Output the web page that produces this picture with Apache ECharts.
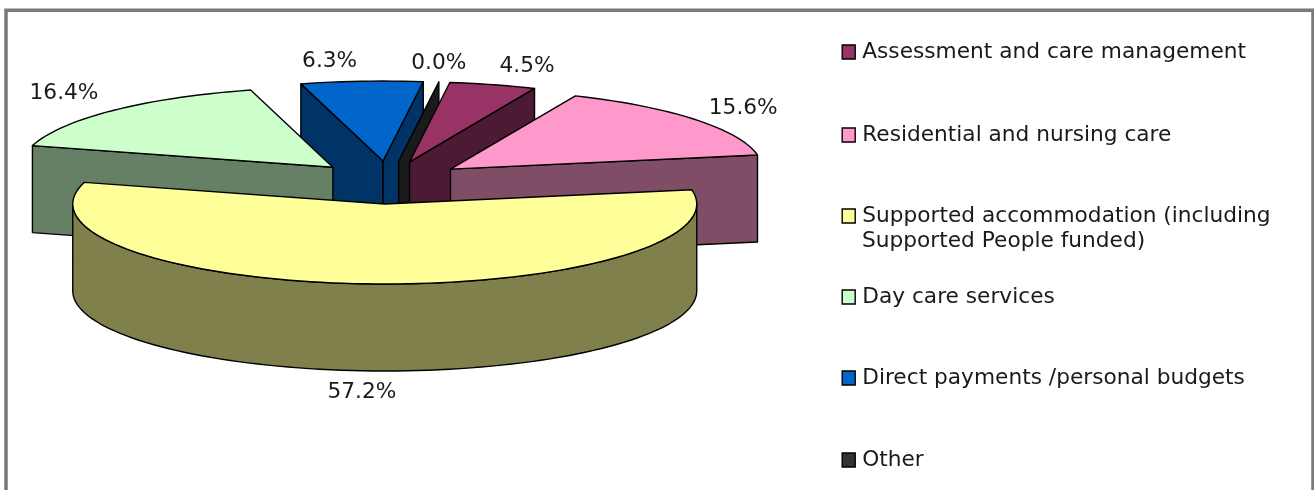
<!DOCTYPE html>
<html>
<head>
<meta charset="utf-8">
<style>
  html, body { margin: 0; padding: 0; background: #fff; }
  #chart { width: 1314px; height: 490px; }
</style>
<script src="https://cdn.jsdelivr.net/npm/echarts@6/dist/echarts.min.js"></script>
</head>
<body>
<div id="chart"></div>
<script>
const categories = [
  "Assessment and care management",
  "Residential and nursing care",
  "Supported accommodation (including",
  "Day care services",
  "Direct payments /personal budgets",
  "Other",
];
const shares = [4.5, 15.6, 57.2, 16.4, 6.3, 0.0];
const colors = ["#993366", "#FF99CC", "#FFFF99", "#CCFFCC", "#0066CC", "#333333"];

// pie geometry, fitted to the picture
const cx = 388.5, cy = 182.5;
const rx = 312, ry = 80, depth = 87;
const explodeX = 79, explodeY = 21.5;
const startAngle = 7.4; // clock degrees where the first slice starts

// back to front, later slices cover earlier ones
const paintRank = [2, 4, 5, 3, 0, 1];
const labelNudge = [[34, -18], [48, -11], [-8, 21], [-49, -17], [-32, -20], [0, -18]];
const legendTops = [41, 124, 205, 286, 367, 449];
const fontFamily = '"DejaVu Sans", Verdana, sans-serif';
const fontSize = 21.7;

function rad(deg) { return deg * Math.PI / 180; }

function darker(hex) {
  const n = parseInt(hex.slice(1), 16);
  const half = (v) => Math.round(v / 2);
  return `rgb(${half(n >> 16)},${half((n >> 8) & 255)},${half(n & 255)})`;
}

// start and end angle of each slice, clockwise from north
const spans = [];
let running = startAngle;
shares.forEach((v) => {
  spans.push([running, running + v * 3.6]);
  running += v * 3.6;
});

function rimPoint(c, a) {
  return [c[0] + Math.sin(rad(a)) * rx, c[1] - Math.cos(rad(a)) * ry];
}

function arcPoints(c, a0, a1) {
  const pts = [];
  const steps = Math.max(1, Math.ceil(Math.abs(a1 - a0) / 2));
  for (let i = 0; i <= steps; i++) pts.push(rimPoint(c, a0 + ((a1 - a0) * i) / steps));
  return pts;
}

function down(p) { return [p[0], p[1] + depth]; }

function renderSlice(idx) {
  const [a0, a1] = spans[idx];
  const mid = (a0 + a1) / 2;
  const apex = [cx + Math.sin(rad(mid)) * explodeX, cy - Math.cos(rad(mid)) * explodeY];
  const top = colors[idx], wall = darker(top);
  const children = [];
  const poly = (points, fill) => children.push({
    type: "polygon",
    shape: { points },
    style: { fill, stroke: "#000", lineWidth: 1.4, lineJoin: "round" },
  });

  // cut faces: only the ones turned towards the viewer
  if (Math.sin(rad(a0)) < 0) {
    const p = rimPoint(apex, a0);
    poly([apex, p, down(p), down(apex)], wall);
  }
  if (Math.sin(rad(a1)) > 0) {
    const p = rimPoint(apex, a1);
    poly([apex, p, down(p), down(apex)], wall);
  }
  // outer wall, the part on the near side
  const w0 = Math.max(a0, 90), w1 = Math.min(a1, 270);
  if (w1 > w0) {
    const arc = arcPoints(apex, w0, w1);
    poly(arc.concat(arc.map(down).reverse()), wall);
  }
  // top surface
  if (a1 > a0) poly([apex].concat(arcPoints(apex, a0, a1)), top);

  // label
  const edge = rimPoint(apex, mid);
  const lowest = mid > 90 && mid < 270 ? depth : 0;
  children.push({
    type: "text",
    z2: 10,
    style: {
      x: edge[0] + labelNudge[idx][0],
      y: edge[1] + lowest + labelNudge[idx][1],
      text: shares[idx].toFixed(1) + "%",
      fill: "#1a1a1a",
      font: `${fontSize}px ${fontFamily}`,
      align: "center",
      verticalAlign: "middle",
    },
  });
  return { type: "group", children };
}

const chart = echarts.init(document.getElementById("chart"), null, { renderer: "canvas" });

chart.setOption({
  animation: false,
  backgroundColor: "#fff",
  legend: categories.map((name, i) => ({
    left: 841.5,
    top: legendTops[i],
    orient: "vertical",
    selectedMode: false,
    icon: "rect",
    itemWidth: 13,
    itemHeight: 14,
    itemGap: 0,
    padding: 0,
    textStyle: { fontFamily, fontSize, color: "#1a1a1a", padding: [0, 0, 0, 2] },
    data: [{ name, itemStyle: { color: colors[i], borderColor: "#000", borderWidth: 1.4 } }],
  })),
  graphic: [
    {
      type: "rect",
      shape: { x: 6, y: 10.3, width: 1307, height: 490 },
      style: { fill: "none", stroke: "#7a7a7a", lineWidth: 3.5 },
      silent: true,
    },
    {
      type: "text",
      left: 862,
      top: 230,
      style: { text: "Supported People funded)", font: `${fontSize}px ${fontFamily}`, fill: "#1a1a1a" },
      silent: true,
    },
  ],
  series: categories.map((name, i) => ({
    name,
    type: "custom",
    coordinateSystem: "none",
    z: 2 + paintRank[i],
    silent: true,
    itemStyle: { color: colors[i] },
    data: [shares[i]],
    renderItem: () => renderSlice(i),
  })),
});
</script>
</body>
</html>
